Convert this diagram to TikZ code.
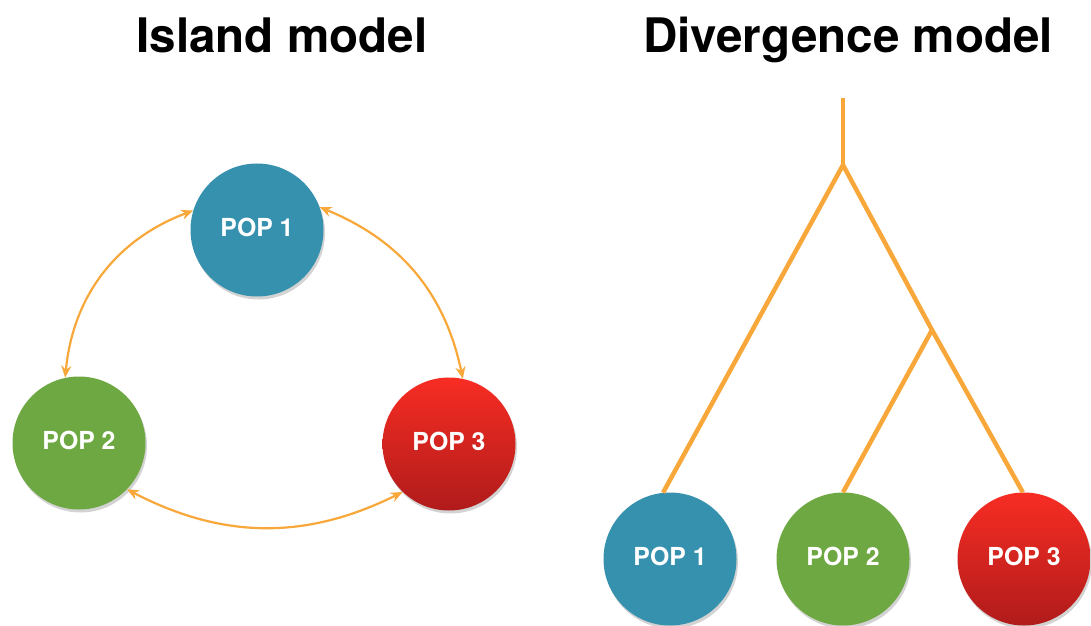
\documentclass[tikz,border=0pt]{standalone}
\usepackage{fontspec}
\setmainfont{TeX Gyre Heros}
\usetikzlibrary{shadows,arrows.meta,calc}
\definecolor{popblue}{RGB}{53,145,174}
\definecolor{popgreen}{RGB}{110,168,66}
\definecolor{poptop}{RGB}{247,45,35}
\definecolor{popbottom}{RGB}{176,27,27}
\definecolor{branch}{RGB}{248,168,58}
\tikzstyle{population}=[circle, minimum size=133pt, inner sep=0pt, text=white,
  font=\bfseries, drop shadow={opacity=0.35, shadow xshift=1.5pt, shadow yshift=-3pt}]
\tikzstyle{popA} = [population, fill=popblue]
\tikzstyle{popB} = [population, fill=popgreen]
\tikzstyle{popC} = [population, top color=poptop, bottom color=popbottom]
\tikzstyle{titel} = [anchor=base, font=\bfseries\fontsize{47.6}{56}\selectfont]
\tikzstyle{migration} = [draw, line width=2.2pt, color=branch,
  {Stealth[length=12pt,width=10pt]}-{Stealth[length=12pt,width=10pt]}]
\tikzstyle{tree} = [draw, line width=4.5pt, color=branch]
\newcommand{\textsize}{\fontsize{24.8}{28}\selectfont}
\newcommand{\population}[3]{node (#1) [#2]
  {\raisebox{5pt}{\textsize #3}}}

\begin{document}
\begin{tikzpicture}[x=1pt,y=1pt]
  \useasboundingbox (0,0) rectangle (1091,625);

  % Titles
  \node (t1) [titel] at (282,572) {Island model};
  \node (t2) [titel] at (848,572) {Divergence model};

  % Island model
  \path (257,395) \population{i1}{popA}{POP 1};
  \path (i1)+(-178,-213) \population{i2}{popB}{POP 2};
  \path (i1)+(192,-214) \population{i3}{popC}{POP 3};

  % Draw migration arrows
  \path [migration] (i2.102) to [bend left=32] (i1.163);
  \path [migration] (i1.20) to [bend left=28] (i3.78);
  \path [migration] (i2.-44) to [bend right=27] (i3.226);

  % Divergence model
  \path (670,66) \population{d1}{popA}{POP 1};
  \path (d1)+(173,0) \population{d2}{popB}{POP 2};
  \path (d2)+(181,0) \population{d3}{popC}{POP 3};

  % Draw tree
  \coordinate (root) at (843,527);
  \coordinate (split) at (843,460);
  \coordinate (inner) at (932,295);
  \path [tree] (root) -- (split);
  \path [tree] (split) -- (d1.96);
  \path [tree] (split) -- (inner) -- (d3.91);
  \path [tree] (inner) -- (d2.90);

\end{tikzpicture}
\end{document}
